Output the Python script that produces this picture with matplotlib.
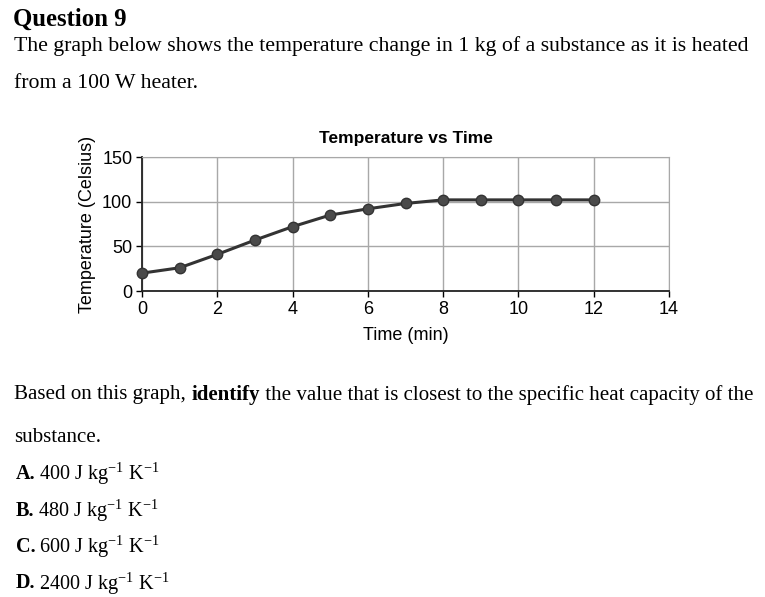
import matplotlib.pyplot as plt

plt.rcParams["mathtext.fontset"] = "custom"
plt.rcParams["mathtext.rm"] = "Liberation Serif"
plt.rcParams["mathtext.bf"] = "Liberation Serif:bold"

# ----------------------------
# Data
# ----------------------------
time_min = [0, 1, 2, 3, 4, 5, 6, 7, 8, 9, 10, 11, 12]
temp_c = [20, 26, 41, 57, 72, 85, 92, 98, 102, 102, 102, 102, 102]
x_ticks = [0, 2, 4, 6, 8, 10, 12, 14]
y_ticks = [0, 50, 100, 150]

options = ["A.", "B.", "C.", "D."]
option_vals = ["400", "480", "600", "2400"]

W, H = 765, 597
fig = plt.figure(figsize=(W / 100, H / 100), dpi=100)

serif = "Liberation Serif"
sans = "Liberation Sans"
FS = 15.1  # body text under the graph
FS_OPT = 14.6  # answer options


def px(x, y):
    return x / W, 1 - y / H


def run_text(x, y, parts, size):
    """Draw consecutive text pieces (text, weight) on one line."""
    for txt, wt in parts:
        t = fig.text(x / W, 1 - y / H, txt, family=serif, weight=wt, fontsize=size, va="center")
        fig.canvas.draw()
        x = t.get_window_extent().x1
    return x


# ----------------------------
# Question text
# ----------------------------
fig.text(*px(13, 19), "Question 9", family=serif, weight="bold", fontsize=17.8, va="center")
fig.text(*px(14, 46), "The graph below shows the temperature change in 1 kg of a substance as it is heated",
         family=serif, fontsize=15.7, va="center")
fig.text(*px(14, 84), "from a 100 W heater.", family=serif, fontsize=15.7, va="center")

run_text(14, 395, [("Based on this graph, ", "normal"), ("identify", "bold"),
                   (" the value that is closest to the specific heat capacity of the", "normal")], FS)
fig.text(*px(14, 437), "substance.", family=serif, fontsize=FS, va="center")

for i, (lab, val) in enumerate(zip(options, option_vals)):
    y = 474 + i * 36.5
    xe = run_text(16, y, [(lab, "bold")], FS_OPT)
    fig.text(xe / W + 0.004, 1 - y / H, val + r" J kg$^{-1}$ K$^{-1}$",
             family=serif, fontsize=FS_OPT, va="center")

# ----------------------------
# Chart
# ----------------------------
ax = fig.add_axes([142 / W, 1 - 291 / H, (669 - 142) / W, (291 - 157) / H])
ax.plot(time_min, temp_c, color="#333333", lw=2.2, marker="o", ms=7.5,
        markerfacecolor="#4a4a4a", markeredgecolor="#333333", zorder=3, clip_on=False)

ax.set_xlim(0, 14)
ax.set_ylim(0, 150)
ax.set_xticks(x_ticks)
ax.set_yticks(y_ticks)
ax.grid(True, color="#a8a8a8", lw=1)
ax.set_axisbelow(True)
for s in ["top", "right"]:
    ax.spines[s].set_color("#a8a8a8")
for s in ["left", "bottom"]:
    ax.spines[s].set_color("#222222")
    ax.spines[s].set_linewidth(1.3)
ax.tick_params(length=4, width=1, labelsize=13, pad=3)
for lab in ax.get_xticklabels() + ax.get_yticklabels():
    lab.set_family(sans)

ax.set_title("Temperature vs Time", family=sans, weight="bold", fontsize=12.5, pad=10)
ax.set_xlabel("Time (min)", family=sans, fontsize=13, labelpad=7)
ax.set_ylabel("Temperature (Celsius)", family=sans, fontsize=13, labelpad=4)

fig.savefig("out.png", dpi=100)
